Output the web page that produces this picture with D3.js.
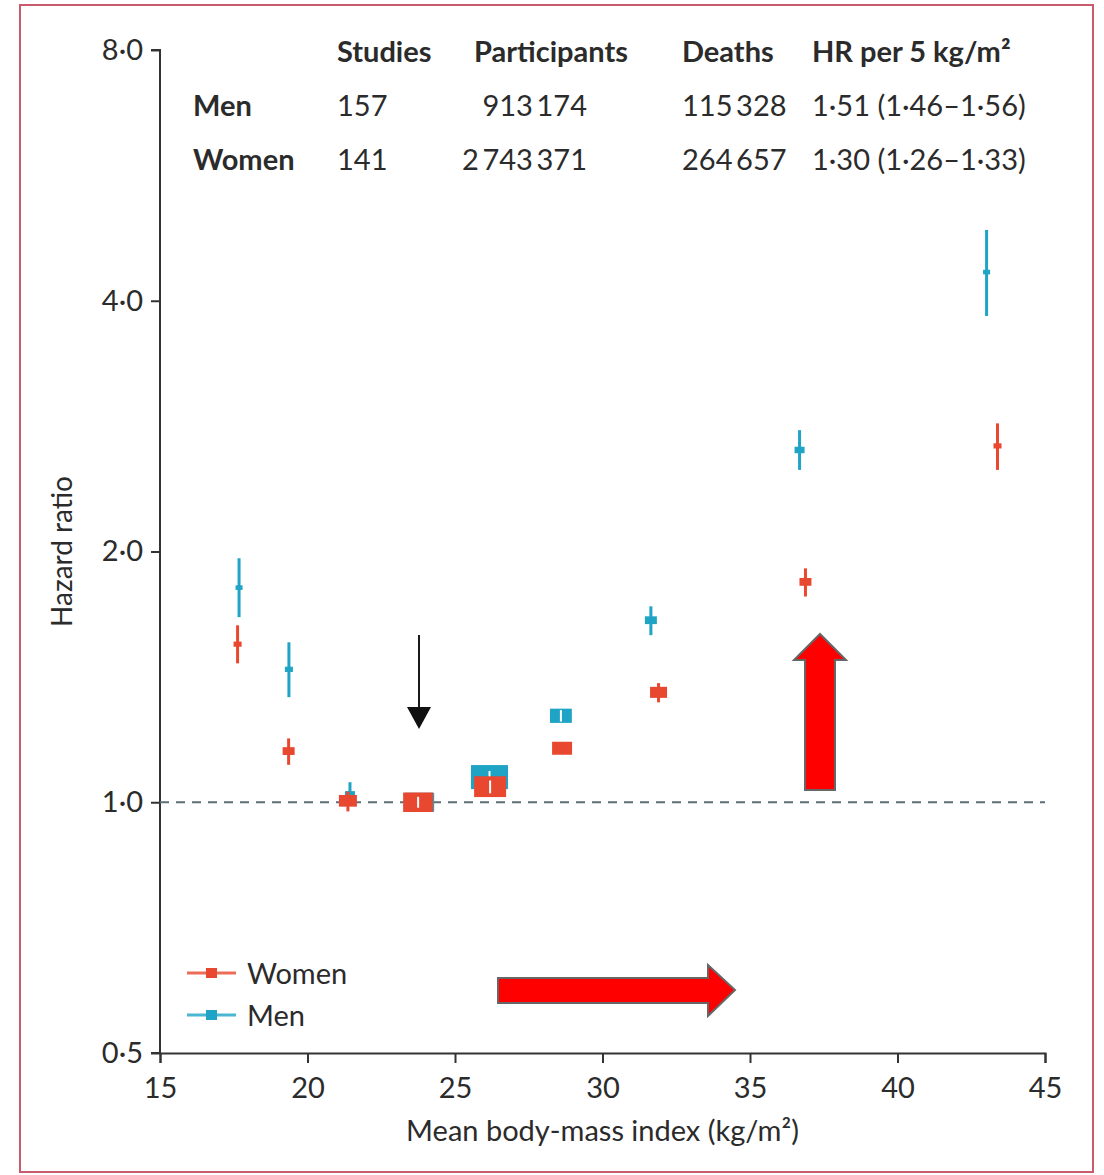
<!DOCTYPE html>
<html><head><meta charset="utf-8">
<script src="https://cdnjs.cloudflare.com/ajax/libs/d3/7.8.5/d3.min.js"></script>
<style>
body{margin:0;background:#fff;}
text{font-family:Lato,"Open Sans","Noto Sans",sans-serif;fill:#2b2b2b;}
</style></head>
<body>
<svg id="c" width="1104" height="1175"></svg>
<script>
// ---- data ----
const xTicks = [15, 20, 25, 30, 35, 40, 45];
const yTicks = [0.5, 1, 2, 4, 8];
const yTickLabels = ["0·5", "1·0", "2·0", "4·0", "8·0"];

const menBMI    = [17.68, 19.37, 21.44, 23.8, 26.17, 28.59, 31.64, 36.68, 43.02];
const menHR     = [1.81, 1.444, 1.022, 1.0, 1.072, 1.27, 1.654, 2.648, 4.33];
const menLo     = [1.668, 1.337, 0.994, 0.985, 1.06, 1.25, 1.587, 2.506, 3.835];
const menHi     = [1.963, 1.556, 1.057, 1.015, 1.09, 1.29, 1.719, 2.797, 4.865];
const menWeight = [3.6, 4.7, 7.3, 62, 100, 35, 10.5, 7.3, 3.6];

const womenBMI    = [17.63, 19.36, 21.37, 23.75, 26.19, 28.63, 31.9, 36.88, 43.39];
const womenHR     = [1.548, 1.152, 1.004, 1.0, 1.044, 1.161, 1.355, 1.839, 2.678];
const womenLo     = [1.468, 1.109, 0.975, 0.985, 1.025, 1.148, 1.318, 1.766, 2.506];
const womenHi     = [1.631, 1.193, 1.03, 1.015, 1.062, 1.172, 1.39, 1.909, 2.85];
const womenWeight = [4.7, 10.5, 23.7, 65.7, 74.8, 29.2, 21.1, 10.5, 4.7];

const tableHeader = ["Studies", "Participants", "Deaths", "HR per 5 kg/m²"];
const tableRows = ["Men", "Women"];
const tableStudies = ["157", "141"];
const tableParticipants = ["913\u2009174", "2\u2009743\u2009371"];
const tableDeaths = ["115\u2009328", "264\u2009657"];
const tableHR = ["1·51 (1·46–1·56)", "1·30 (1·26–1·33)"];

const seriesNames = ["Women", "Men"];
const colors = {Men: "#1fa4c6", Women: "#e8482f"};

// ---- layout ----
const FONT = 'Lato,"Open Sans","Noto Sans",sans-serif';
const svg = d3.select("#c");
const m = {left: 160, right: 1045, top: 50, bottom: 1053};
const x = d3.scaleLinear().domain([15, 45]).range([m.left, m.right]);
const y = d3.scaleLog().base(2).domain([0.5, 8]).range([m.bottom, m.top]);
const wScale = d3.scaleSqrt().domain([0, 100]).range([0, 37]);

// border
svg.append("rect").attr("x", 20).attr("y", 5).attr("width", 1073).attr("height", 1167)
  .attr("fill", "none").attr("stroke", "#c95c6c").attr("stroke-width", 2);

// axes
const yAxis = d3.axisLeft(y).tickValues(yTicks).tickFormat((d, i) => yTickLabels[i]).tickSize(9).tickPadding(8);
const gy = svg.append("g").attr("transform", `translate(${m.left},0)`).call(yAxis);
const xAxis = d3.axisBottom(x).tickValues(xTicks).tickFormat(d => d).tickSize(10).tickPadding(14);
const gx = svg.append("g").attr("transform", `translate(0,${m.bottom})`).call(xAxis);
[gy, gx].forEach(g => {
  g.select(".domain").attr("stroke", "#333").attr("stroke-width", 2);
  g.selectAll(".tick line").attr("stroke", "#333").attr("stroke-width", 2);
  g.selectAll(".tick text").attr("font-size", 29).attr("fill", "#2b2b2b").attr("font-family", FONT);
});
gy.select(".domain").attr("d", `M-9,${m.top}H0V${m.bottom}H-9`);

// axis titles
svg.append("text").attr("x", x(30)).attr("y", 1141).attr("text-anchor", "middle")
  .attr("font-size", 29).text("Mean body-mass index (kg/m²)");
svg.append("text").attr("transform", `translate(72,${y(2)})rotate(-90)`)
  .attr("text-anchor", "middle").attr("font-size", 28).text("Hazard ratio");

// reference line
svg.append("line").attr("x1", m.left).attr("x2", m.right).attr("y1", y(1)).attr("y2", y(1))
  .attr("stroke", "#5c6e78").attr("stroke-width", 2).attr("stroke-dasharray", "9,7");

// series
function drawSeries(name, bmi, hr, lo, hi, wt) {
  const g = svg.append("g");
  const col = colors[name];
  bmi.forEach((b, i) => {
    const cx = x(b), cy = y(hr[i]);
    const w = wScale(wt[i]), h = w * 0.65;
    g.append("line").attr("x1", cx).attr("x2", cx).attr("y1", y(lo[i])).attr("y2", y(hi[i]))
      .attr("stroke", col).attr("stroke-width", 3);
    g.append("rect").attr("x", cx - w / 2).attr("y", cy - h / 2).attr("width", w).attr("height", h)
      .attr("fill", col);
    if (w > 20) {
      const top = Math.max(y(hi[i]), cy - h / 2), bot = Math.min(y(lo[i]), cy + h / 2);
      g.append("line").attr("x1", cx).attr("x2", cx).attr("y1", top).attr("y2", bot)
        .attr("stroke", "#fff").attr("stroke-width", 2);
    }
  });
}
drawSeries("Men", menBMI, menHR, menLo, menHi, menWeight);
drawSeries("Women", womenBMI, womenHR, womenLo, womenHi, womenWeight);

// table
const colX = [337, 474, 682, 812];
const rowY = [62, 116, 170];
tableHeader.forEach((t, i) => {
  svg.append("text").attr("x", colX[i]).attr("y", rowY[0]).attr("font-size", 29)
    .attr("font-weight", "bold").text(t);
});
tableRows.forEach((r, j) => {
  const yy = rowY[j + 1];
  svg.append("text").attr("x", 193).attr("y", yy).attr("font-size", 29).attr("font-weight", "bold").text(r);
  svg.append("text").attr("x", colX[0]).attr("y", yy).attr("font-size", 29).text(tableStudies[j]);
  svg.append("text").attr("x", 587).attr("y", yy).attr("font-size", 29).attr("text-anchor", "end").text(tableParticipants[j]);
  svg.append("text").attr("x", colX[2]).attr("y", yy).attr("font-size", 29).text(tableDeaths[j]);
  svg.append("text").attr("x", colX[3]).attr("y", yy).attr("font-size", 29).text(tableHR[j]);
});

// legend
seriesNames.forEach((s, i) => {
  const ly = 973 + i * 42;
  svg.append("line").attr("x1", 187).attr("x2", 236).attr("y1", ly).attr("y2", ly)
    .attr("stroke", colors[s]).attr("stroke-width", 3).attr("opacity", 0.8);
  svg.append("rect").attr("x", 206).attr("y", ly - 5).attr("width", 11).attr("height", 10).attr("fill", colors[s]);
  svg.append("text").attr("x", 247).attr("y", ly + 11).attr("font-size", 29).text(s);
});

// black arrow
svg.append("line").attr("x1", 419).attr("x2", 419).attr("y1", 635).attr("y2", 710)
  .attr("stroke", "#1a1a1a").attr("stroke-width", 2);
svg.append("path").attr("d", "M407,707L431,707L419,729Z").attr("fill", "#111");

// red block arrows
svg.append("path").attr("d", "M805,790L835,790L835,660L846,660L820,634L794,660L805,660Z")
  .attr("fill", "#ff0000").attr("stroke", "#666").attr("stroke-width", 2);
svg.append("path").attr("d", "M498,978L708,978L708,965L735,990L708,1016L708,1003L498,1003Z")
  .attr("fill", "#ff0000").attr("stroke", "#666").attr("stroke-width", 2);
</script>
</body></html>
